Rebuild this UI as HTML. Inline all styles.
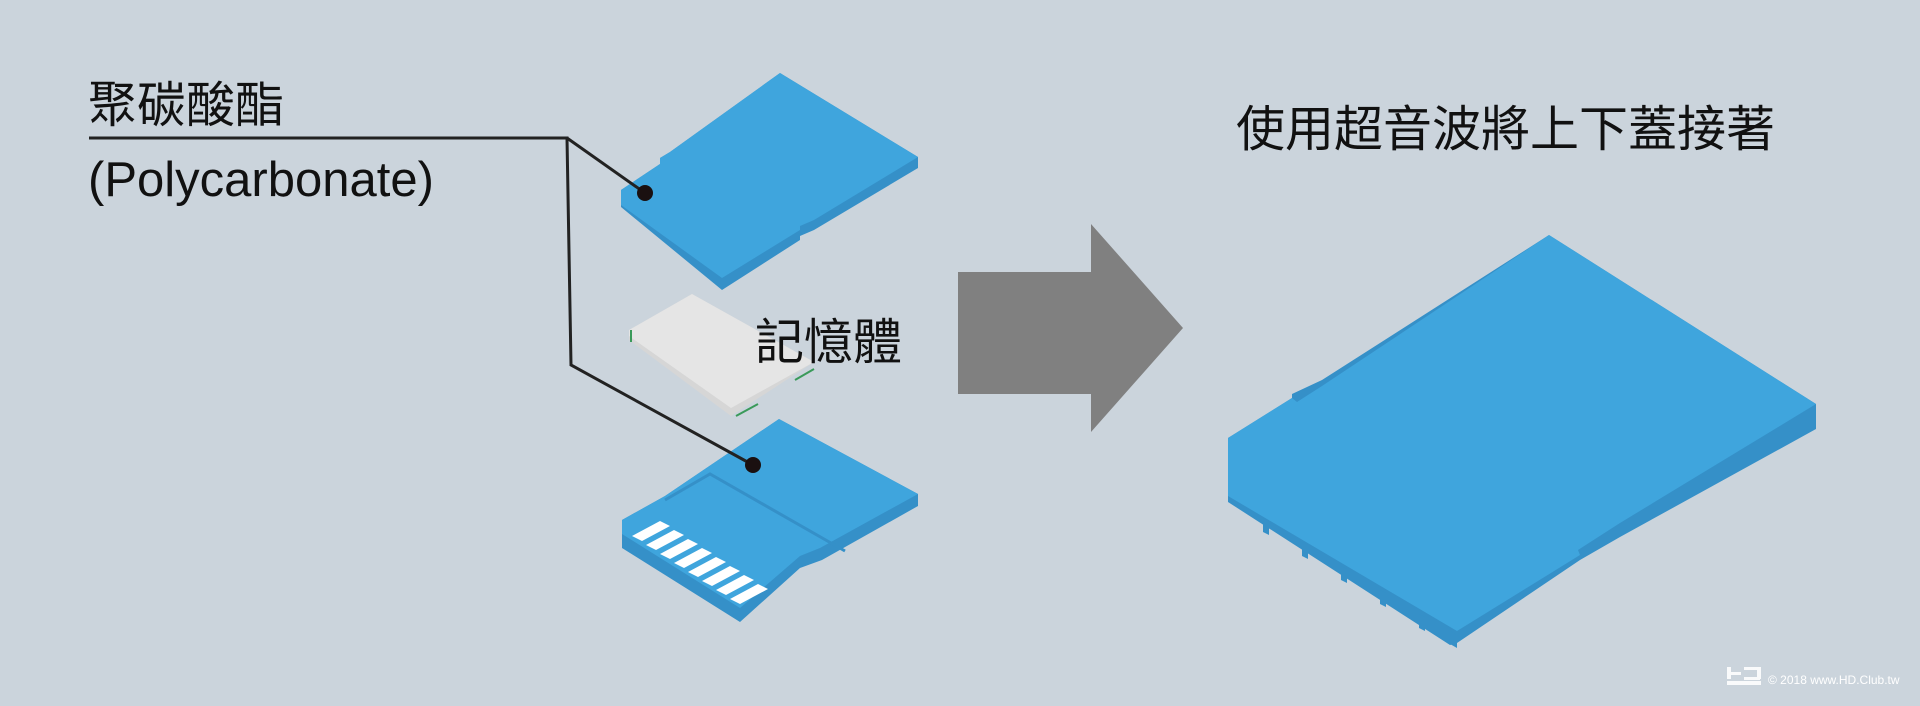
<!DOCTYPE html>
<html><head><meta charset="utf-8"><style>
html,body{margin:0;padding:0;background:#cbd4dc;}
body{width:1920px;height:706px;overflow:hidden;position:relative;font-family:"Liberation Sans","Noto Sans CJK TC",sans-serif;}
.t{position:absolute;color:#111;white-space:nowrap;}
</style></head><body>
<svg width="1920" height="706" style="position:absolute;left:0;top:0">
<!-- top card -->
<polygon points="621,190 660,164 660,158 670,152 780,73 918,157 918,168 814,230 800,236 800,240 722,290 621,207" fill="#3590c8"/>
<polygon points="621,190 660,164 660,158 670,152 780,73 918,157 814,220 800,226 800,230 722,278 621,205" fill="#3fa5dd"/>
<!-- chip -->
<polygon points="629,330 692,294 814,362 731,416 629,340" fill="#d6d6d6"/>
<polygon points="629,330 692,294 814,362 731,408 629,336" fill="#e5e5e5"/>
<line x1="631" y1="330" x2="631" y2="342" stroke="#3a9a5a" stroke-width="2"/>
<line x1="795" y1="380" x2="814" y2="369" stroke="#3a9a5a" stroke-width="2"/>
<line x1="736" y1="416" x2="758" y2="404" stroke="#3a9a5a" stroke-width="2"/>
<!-- bottom card -->
<polygon points="622,520 665,496 779,419 918,494 918,506 822,560 800,568 740,622 622,548" fill="#3590c8"/>
<polygon points="622,520 665,496 779,419 918,494 820,548 800,556 740,608 622,534" fill="#3fa5dd"/>
<polyline points="665,500 710,474 845,551" fill="none" stroke="#3590c8" stroke-width="3"/>
<g fill="#fff">
<polygon points="632,536 660,521 670,526 642,541"/>
<polygon points="646,545 674,530 684,535 656,550"/>
<polygon points="660,554 688,539 698,544 670,559"/>
<polygon points="674,563 702,548 712,553 684,568"/>
<polygon points="688,572 716,557 726,562 698,577"/>
<polygon points="702,581 730,566 740,571 712,586"/>
<polygon points="716,590 744,575 754,580 726,595"/>
<polygon points="730,599 758,584 768,589 740,604"/>
</g>
<!-- leaders -->
<polyline points="89,138 567,138 571,365 753,465" fill="none" stroke="#222" stroke-width="3"/>
<line x1="567" y1="138" x2="645" y2="193" stroke="#222" stroke-width="3"/>
<circle cx="645" cy="193" r="8" fill="#1a1010"/>
<circle cx="753" cy="465" r="8" fill="#1a1010"/>
<!-- arrow -->
<polygon points="958,272 1091,272 1091,224 1183,328 1091,432 1091,394 958,394" fill="#808080"/>
<!-- big card -->
<polygon points="1228,438 1292,398 1292,394 1322,380 1549,235 1816,404 1816,429 1620,537 1580,560 1457,643 1450,645 1228,502" fill="#3590c8"/>
<polygon points="1228,438 1292,398 1297,402 1322,386 1549,235 1816,404 1620,523 1578,550 1580,555 1457,631 1228,496" fill="#3fa5dd"/>
<g fill="#3590c8">
<polygon points="1263,518 1269,521 1269,535 1263,532"/>
<polygon points="1302,542 1308,545 1308,559 1302,556"/>
<polygon points="1341,566 1347,569 1347,583 1341,580"/>
<polygon points="1380,590 1386,593 1386,607 1380,604"/>
<polygon points="1419,614 1425,617 1425,631 1419,628"/>
<polygon points="1450,631 1457,635 1457,648 1450,644"/>
</g>
<!-- watermark -->
<g fill="#fff" opacity="0.9">
<rect x="1727" y="667" width="4" height="12"/><rect x="1727" y="672" width="14" height="3"/>
<rect x="1744" y="667" width="16" height="3"/><rect x="1757" y="667" width="4" height="12"/><rect x="1744" y="677" width="16" height="3"/>
<rect x="1727" y="681" width="34" height="4"/>
</g>
<text x="1768" y="684" font-family="Liberation Sans" font-size="12" fill="#fff">© 2018 www.HD.Club.tw</text>
</svg>
<div class="t" style="left:88px;top:66px;font-size:49px;">聚碳酸酯</div>
<div class="t" style="left:88px;top:152px;font-size:49px;">(Polycarbonate)</div>
<div class="t" style="left:755px;top:303px;font-size:49px;">記憶體</div>
<div class="t" style="left:1236px;top:90px;font-size:49px;">使用超音波將上下蓋接著</div>
</body></html>
